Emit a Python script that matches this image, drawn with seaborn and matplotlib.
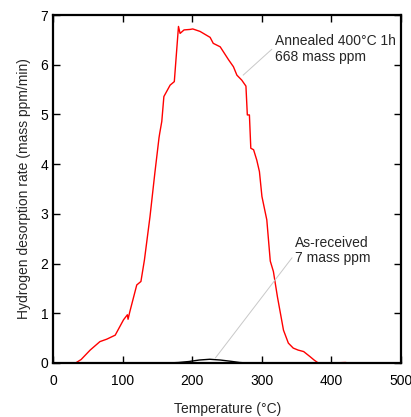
import matplotlib
matplotlib.use("Agg")
import matplotlib.pyplot as plt
import numpy as np
import pandas as pd
import seaborn as sns

sns.set_theme(style="ticks")
plt.rcParams["font.family"] = ["Liberation Sans", "DejaVu Sans"]

# Annealed 400°C 1h sample (red)
annealed_temp = [32, 40, 53, 67, 77, 89, 101, 106.5, 107.5, 110, 120, 126, 131, 139, 146,
                 152, 153, 156, 159, 168, 174, 180, 182.3, 188, 196.7, 200.5, 211, 225.5,
                 230, 240, 252, 259, 264, 271, 277, 279, 282, 284, 288, 292.6, 296.4, 300,
                 304.6, 307, 312, 316.5, 322.3, 326.2, 331, 338, 345, 352, 360, 369, 375, 381,
                 400, 420, 425]
annealed_rate = [0.0, 0.07, 0.26, 0.43, 0.48, 0.56, 0.87, 0.97, 0.88, 1.03, 1.57, 1.64, 2.07,
                 2.94, 3.82, 4.53, 4.62, 4.86, 5.36, 5.59, 5.66, 6.77, 6.63, 6.70, 6.71, 6.72,
                 6.67, 6.55, 6.43, 6.36, 6.10, 5.96, 5.79, 5.69, 5.57, 4.99, 4.99, 4.32, 4.29,
                 4.08, 3.85, 3.35, 3.04, 2.88, 2.05, 1.84, 1.33, 1.03, 0.66, 0.40, 0.30, 0.26,
                 0.23, 0.13, 0.06, 0.0, 0.0, 0.01, 0.0]

# As-received sample (black)
received_temp = [165, 180, 195, 210, 225, 240, 255, 268, 278]
received_rate = [0.0, 0.01, 0.03, 0.06, 0.075, 0.06, 0.035, 0.01, 0.0]

df = pd.concat([
    pd.DataFrame({"T": annealed_temp, "rate": annealed_rate, "sample": "annealed"}),
    pd.DataFrame({"T": received_temp, "rate": received_rate, "sample": "received"}),
])

fig = plt.figure(figsize=(4.11, 4.17), dpi=100)
ax = fig.add_axes([0.1297, 0.1295, 0.8460, 0.8345])

sns.lineplot(data=df, x="T", y="rate", hue="sample", sort=False, estimator=None,
             palette={"annealed": "#ff0000", "received": "#000000"},
             linewidth=1.0, legend=False, ax=ax)

ax.set_xlim(0, 500)
ax.set_ylim(0, 7)
ax.set_xticks(range(0, 501, 100))
ax.set_yticks(range(0, 8))
ax.tick_params(direction="in", top=True, right=True, length=5, width=1,
               labelsize=10, colors="black")
ax.tick_params(axis="x", pad=8)
for s in ax.spines.values():
    s.set_linewidth(1.6)
    s.set_color("black")

ax.set_xlabel("Temperature (°C)", fontsize=10, labelpad=10)
ax.set_ylabel("Hydrogen desorption rate (mass ppm/min)", fontsize=10, labelpad=7)

ax.annotate("Annealed 400°C 1h\n668 mass ppm", xy=(273, 5.79), xytext=(319, 6.32),
            fontsize=10, va="center", ha="left", linespacing=1.15,
            arrowprops=dict(arrowstyle="-", color="#c8c8c8", lw=0.7,
                            shrinkA=0, shrinkB=0, relpos=(-0.01, 0.55)))
ax.annotate("As-received\n7 mass ppm", xy=(233, 0.1), xytext=(348, 2.26),
            fontsize=10, va="center", ha="left", linespacing=1.1,
            arrowprops=dict(arrowstyle="-", color="#c8c8c8", lw=0.7,
                            shrinkA=0, shrinkB=0, relpos=(-0.03, 0.3)))

fig.savefig("out.png", dpi=100)
